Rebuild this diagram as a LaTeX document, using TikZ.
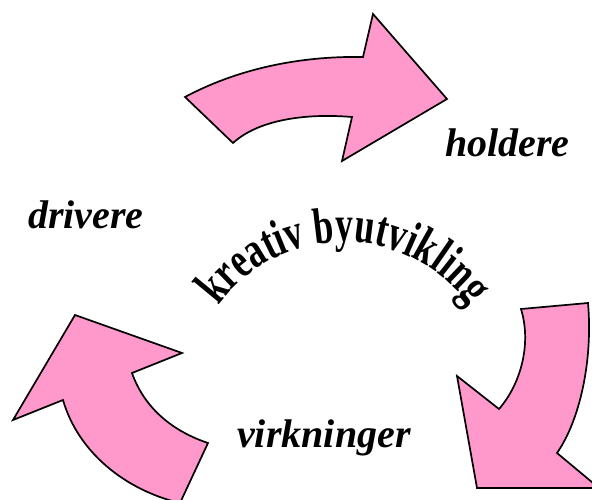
\documentclass[tikz,border=0pt]{standalone}
\usepackage{fontspec}
\setmainfont{Liberation Serif}
\newfontfamily\arcfont[FakeStretch=0.7]{Liberation Serif}
\usetikzlibrary{decorations.text}
\definecolor{pinkfill}{HTML}{FF99CC}
\tikzset{
  bigarrow/.style={fill=pinkfill, draw=black, line width=1.7pt, line join=miter},
  label/.style={font=\fontsize{40}{40}\selectfont\bfseries\itshape, inner sep=0pt, anchor=base west}
}
\begin{document}
\begin{tikzpicture}[x=1pt,y=1pt]
\useasboundingbox (0,0) rectangle (592,499);
\begin{scope}
\clip (0,0) rectangle (592,499);
% top arrow
\draw[bigarrow] (185,402) .. controls (245,434) and (310,443) .. (363,442)
  -- (373,485) -- (447,400) -- (342,338) -- (352,382)
  .. controls (305,386) and (258,379) .. (233,356) -- cycle;
% left arrow
\draw[bigarrow] (75,184) -- (182,146) -- (132,126)
  .. controls (145,89) and (175,67) .. (208,56)
  -- (180,-4)
  .. controls (125,9) and (78,47) .. (63,99)
  -- (13,79) -- cycle;
% right arrow
\draw[bigarrow] (521,190) -- (588,196)
  .. controls (593,139) and (580,79) .. (557,46)
  -- (599,11) -- (477,11) -- (457,123) -- (499,90)
  .. controls (520,114) and (532,154) .. (521,190) -- cycle;
\end{scope}
\node[label] (holdere) at (445,342) {holdere};
\node[label] (drivere) at (28,271) {drivere};
\node[label] (virkninger) at (237,52) {virkninger};
\coordinate (arcc) at (344,102);
\path[decorate, decoration={text along path, text align=center,
  text={|\arcfont\bfseries\fontsize{51}{51}\selectfont|kreativ byutvikling}}]
  (arcc) ++(148:155) arc[start angle=148, end angle=32, radius=155];
\end{tikzpicture}
\end{document}
